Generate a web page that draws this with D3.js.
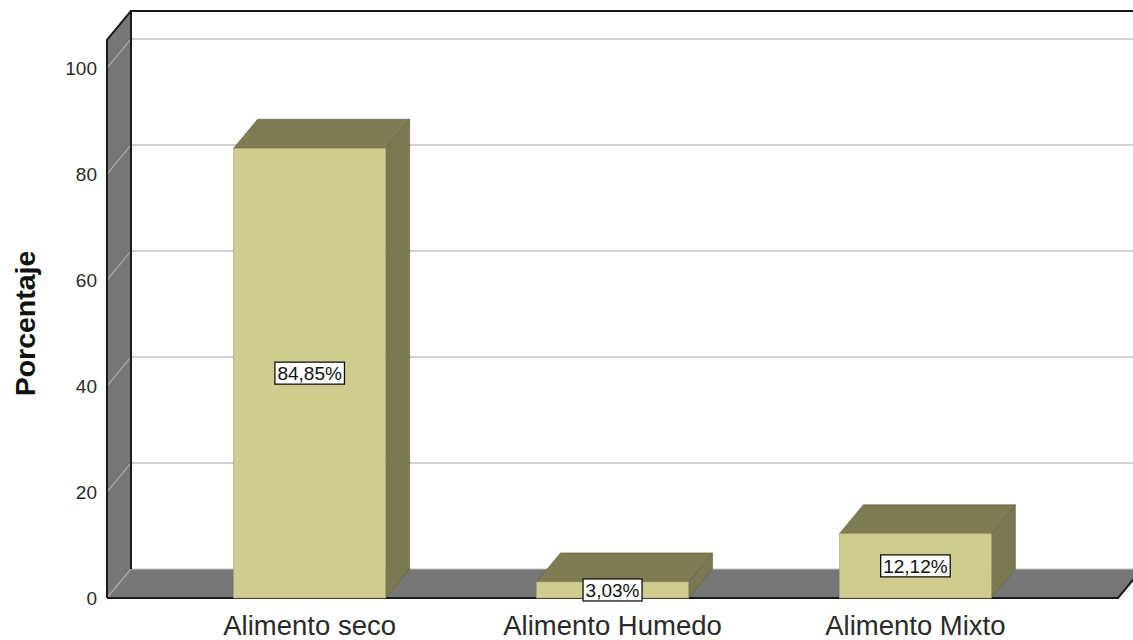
<!DOCTYPE html>
<html>
<head>
<meta charset="utf-8">
<script src="https://cdn.jsdelivr.net/npm/d3@7"></script>
<style>
  html, body { margin: 0; padding: 0; background: #fff; }
  svg { display: block; font-family: "Liberation Sans", Arial, sans-serif; }
</style>
</head>
<body>
<svg id="chart" width="1133" height="640"></svg>
<script>
// Data
const categories = ["Alimento seco", "Alimento Humedo", "Alimento Mixto"];
const percentages = [84.85, 3.03, 12.12];
const valueLabels = ["84,85%", "3,03%", "12,12%"];
const yTicks = [0, 20, 40, 60, 80, 100];
const yTitle = "Porcentaje";

// Layout
const W = 1133, H = 640;
const frontLeft = 107, frontRight = 1118;
const depthX = 24, depthY = -29;       // 3D offset from front plane to back wall
const wallTopValue = 105.3;

const svg = d3.select("#chart");

const y = d3.scaleLinear().domain([0, 100]).range([598, 68]);
const x = d3.scaleBand()
  .domain(categories)
  .range([frontLeft, frontRight])
  .paddingInner(0.498)
  .paddingOuter(0.418);

const colors = {
  wall: "#767676",
  grid: "#cfcfcf",
  gridOnWall: "#a8a8a8",
  barFront: "#d0cb8e",
  barTop: "#7f7c54",
  barSide: "#7b7851",
  barEdge: "#5f5d3d"
};

const line = d3.line();
const poly = pts => line(pts) + "Z";
const y0 = y(0), yTop = y(wallTopValue);

// Back wall
svg.append("rect")
  .attr("x", frontLeft + depthX).attr("y", yTop + depthY)
  .attr("width", W).attr("height", y0 - yTop)
  .attr("fill", "#fff");

// Gridlines on back wall
svg.append("g").selectAll("line").data(yTicks.slice(1)).join("line")
  .attr("x1", frontLeft + depthX).attr("x2", W)
  .attr("y1", d => y(d) + depthY).attr("y2", d => y(d) + depthY)
  .attr("stroke", colors.grid).attr("stroke-width", 2);

// Left wall
svg.append("path")
  .attr("d", poly([[frontLeft, y0], [frontLeft, yTop], [frontLeft + depthX, yTop + depthY], [frontLeft + depthX, y0 + depthY]]))
  .attr("fill", colors.wall);

// Gridlines running across the left wall
svg.append("g").selectAll("line").data(yTicks).join("line")
  .attr("x1", frontLeft).attr("y1", d => y(d))
  .attr("x2", frontLeft + depthX).attr("y2", d => y(d) + depthY)
  .attr("stroke", colors.gridOnWall).attr("stroke-width", 1.2);

// Floor
svg.append("path")
  .attr("d", poly([[frontLeft, y0], [frontLeft + depthX, y0 + depthY], [frontRight + depthX, y0 + depthY], [frontRight, y0]]))
  .attr("fill", colors.wall);
svg.append("line")
  .attr("x1", frontLeft + depthX).attr("x2", frontRight + depthX)
  .attr("y1", y0 + depthY).attr("y2", y0 + depthY)
  .attr("stroke", "#bdbdbd").attr("stroke-width", 1);
svg.append("line")
  .attr("x1", frontLeft).attr("y1", y0)
  .attr("x2", frontLeft + depthX).attr("y2", y0 + depthY)
  .attr("stroke", colors.gridOnWall).attr("stroke-width", 1.2);

// Frame edges
const edge = svg.append("g").attr("fill", "none").attr("stroke", "#1a1a1a").attr("stroke-width", 2);
edge.append("path").attr("d", line([[frontLeft + depthX, y0 + depthY], [frontLeft + depthX, yTop + depthY], [W + 10, yTop + depthY]]));
edge.append("path").attr("d", line([[frontLeft, y0], [frontLeft, yTop], [frontLeft + depthX, yTop + depthY]]));
edge.append("path").attr("d", line([[frontLeft, y0], [frontRight, y0], [frontRight + depthX, y0 + depthY]]));

// Bars
const bars = svg.append("g").selectAll("g").data(categories.map((c, i) => ({ c, v: percentages[i], label: valueLabels[i] })))
  .join("g");

bars.append("path") // side face
  .attr("d", d => {
    const x1 = x(d.c) + x.bandwidth(), yv = y(d.v);
    return poly([[x1, yv], [x1 + depthX, yv + depthY], [x1 + depthX, y0 + depthY], [x1, y0]]);
  })
  .attr("fill", colors.barSide).attr("stroke", colors.barEdge).attr("stroke-width", 0.6);

bars.append("path") // top face
  .attr("d", d => {
    const x0 = x(d.c), x1 = x0 + x.bandwidth(), yv = y(d.v);
    return poly([[x0, yv], [x1, yv], [x1 + depthX, yv + depthY], [x0 + depthX, yv + depthY]]);
  })
  .attr("fill", colors.barTop).attr("stroke", colors.barEdge).attr("stroke-width", 0.6);

bars.append("rect") // front face
  .attr("x", d => x(d.c)).attr("y", d => y(d.v))
  .attr("width", x.bandwidth()).attr("height", d => y0 - y(d.v))
  .attr("fill", colors.barFront).attr("stroke", "#a9a577").attr("stroke-width", 0.6);

// Value labels, centred on each bar's front face
const lab = bars.append("g")
  .attr("transform", d => `translate(${x(d.c) + x.bandwidth() / 2},${(y(d.v) + y0) / 2})`);
lab.append("text")
  .attr("text-anchor", "middle").attr("dy", "0.35em")
  .attr("font-size", 19).attr("fill", "#111")
  .text(d => d.label);
lab.each(function () {
  const g = d3.select(this);
  const bb = g.select("text").node().getBBox();
  g.insert("rect", "text")
    .attr("x", bb.x - 2.5).attr("y", -11)
    .attr("width", bb.width + 5).attr("height", 22)
    .attr("fill", "#fff").attr("stroke", "#111").attr("stroke-width", 1.3);
});

// Y axis tick labels
const yAxis = svg.append("g")
  .attr("transform", `translate(${frontLeft},0)`)
  .call(d3.axisLeft(y).tickValues(yTicks).tickSize(0).tickPadding(10));
yAxis.select(".domain").remove();
yAxis.selectAll("text").attr("font-size", 19).attr("fill", "#2a2a2a")
  .attr("font-family", "'Liberation Sans', Arial, sans-serif");

// Category labels
svg.append("g").selectAll("text").data(categories).join("text")
  .attr("x", d => x(d) + x.bandwidth() / 2).attr("y", 635)
  .attr("text-anchor", "middle").attr("font-size", 27.5).attr("fill", "#2a2a2a")
  .text(d => d);

// Y axis title
svg.append("text")
  .attr("transform", "translate(35,323.5) rotate(-90)")
  .attr("text-anchor", "middle").attr("font-size", 28.5).attr("font-weight", "bold")
  .attr("fill", "#111")
  .text(yTitle);
</script>
</body>
</html>
